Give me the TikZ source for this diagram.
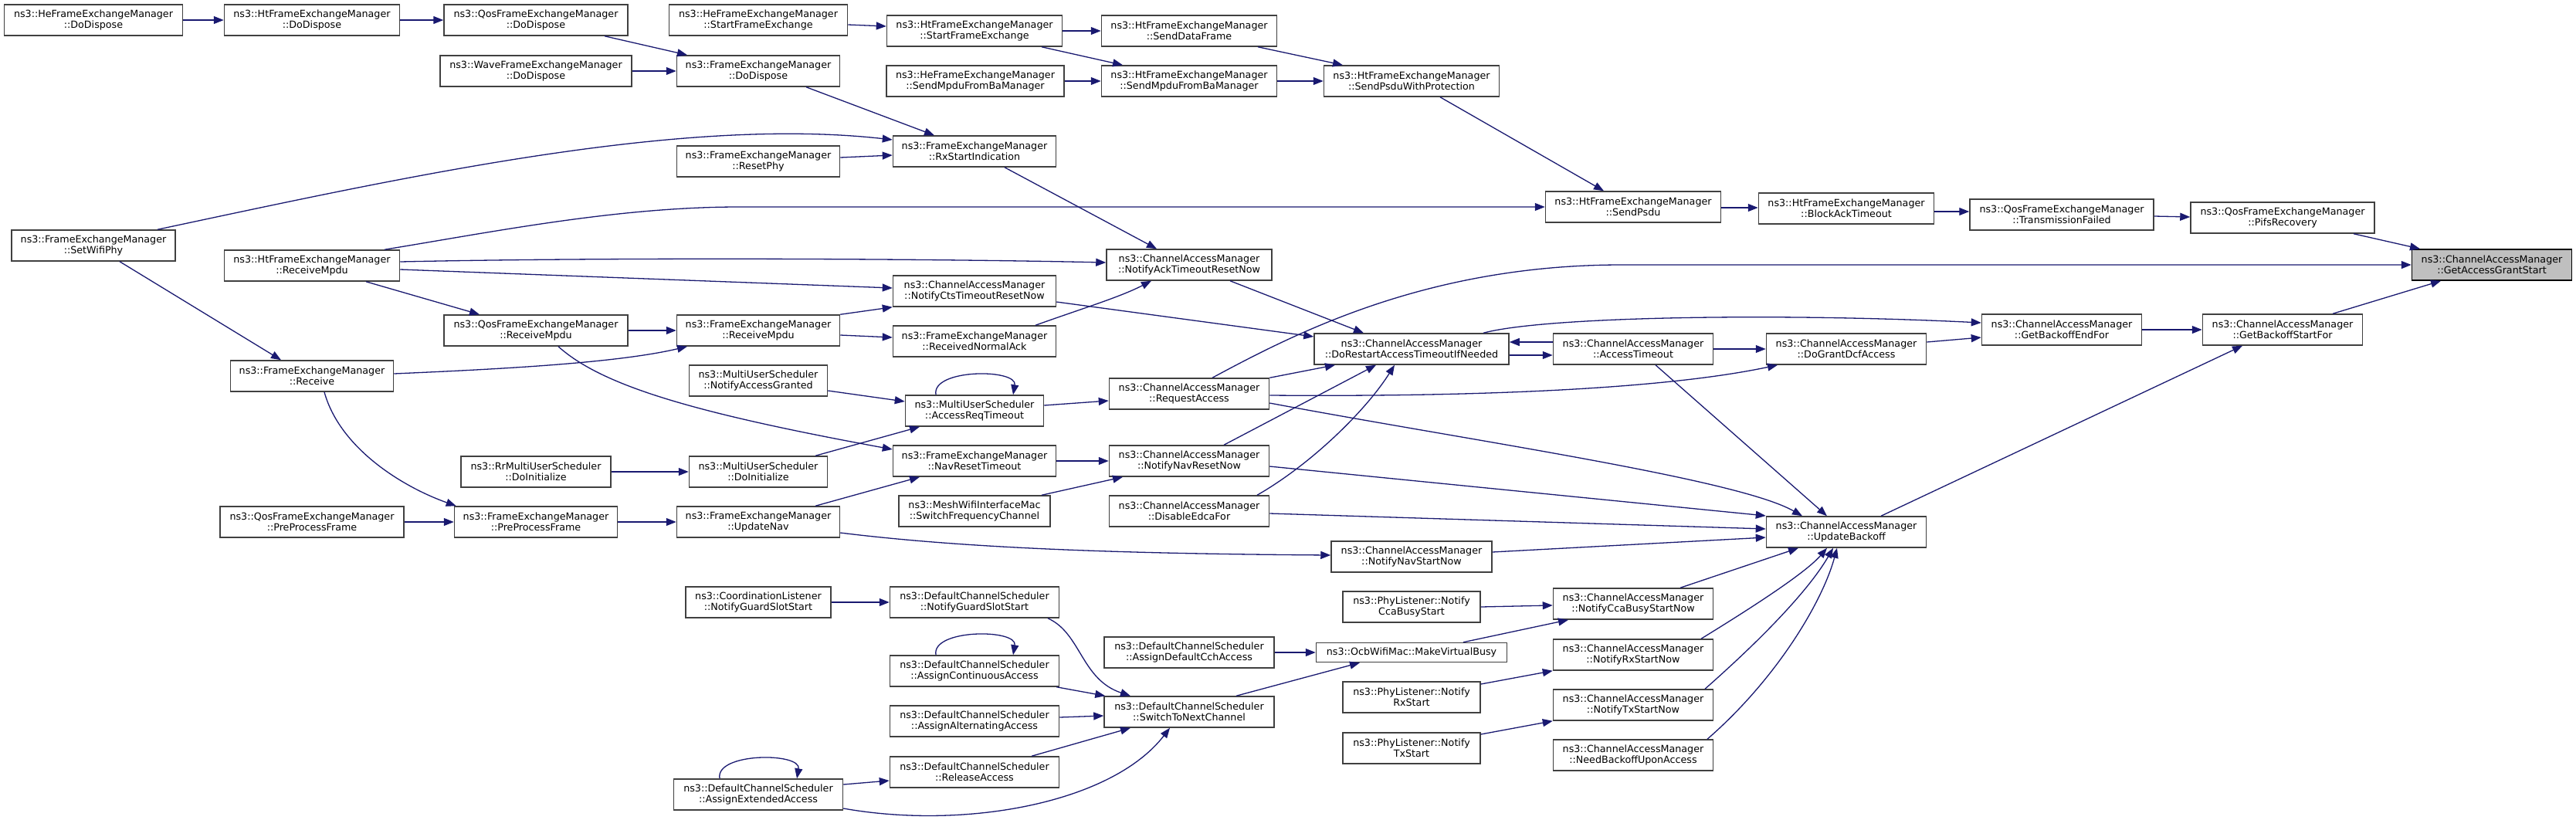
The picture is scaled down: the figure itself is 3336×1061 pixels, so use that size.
\documentclass[tikz,border=0pt]{standalone}
\usepackage{fontspec}
\setmainfont{DejaVu Sans}
\usepackage{tikz}
\usetikzlibrary{arrows.meta,calc}
\definecolor{edgeblue}{HTML}{191970}
\definecolor{boxgray}{HTML}{404040}
\definecolor{hilite}{HTML}{BFBFBF}

\begin{document}
\begin{tikzpicture}[x=1pt,y=-1pt,
			fn/.style={draw=boxgray,line width=1.5pt,fill=white,minimum height=40pt,inner sep=1pt,
				align=center,font=\fontsize{12.7}{13.8}\selectfont},
			call/.style={draw=edgeblue,line width=1.3pt,-{Triangle[length=13pt,width=10pt]}},
			]
			\useasboundingbox (0,0) rectangle (3336,1061);
			
			% DoDispose / StartFrameExchange
			\node[fn,minimum width=231] (heDispose) at (121,26) {ns3::HeFrameExchangeManager\\::DoDispose};
			\node[fn,minimum width=227] (htDispose) at (404,26) {ns3::HtFrameExchangeManager\\::DoDispose};
			\node[fn,minimum width=238] (qosDispose) at (694,26) {ns3::QosFrameExchangeManager\\::DoDispose};
			\node[fn,minimum width=248] (waveDispose) at (694,92) {ns3::WaveFrameExchangeManager\\::DoDispose};
			\node[fn,minimum width=231] (heStartFx) at (982,26) {ns3::HeFrameExchangeManager\\::StartFrameExchange};
			\node[fn,minimum width=211] (femDispose) at (982,92) {ns3::FrameExchangeManager\\::DoDispose};
			\node[fn,minimum width=227] (htStartFx) at (1262,40) {ns3::HtFrameExchangeManager\\::StartFrameExchange};
			\node[fn,minimum width=230] (heSendMpdu) at (1263,105) {ns3::HeFrameExchangeManager\\::SendMpduFromBaManager};
			\node[fn,minimum width=227] (htSendData) at (1540,40) {ns3::HtFrameExchangeManager\\::SendDataFrame};
			\node[fn,minimum width=227] (htSendMpdu) at (1540,105) {ns3::HtFrameExchangeManager\\::SendMpduFromBaManager};
			\node[fn,minimum width=227] (htSendProt) at (1828,105) {ns3::HtFrameExchangeManager\\::SendPsduWithProtection};
			\node[fn,minimum width=211] (rxStart) at (1262,196) {ns3::FrameExchangeManager\\::RxStartIndication};
			\node[fn,minimum width=211] (resetPhy) at (982,209) {ns3::FrameExchangeManager\\::ResetPhy};
			\node[fn,minimum width=227] (htSendPsdu) at (2115,268) {ns3::HtFrameExchangeManager\\::SendPsdu};
			\node[fn,minimum width=227] (blockAckTo) at (2391,270) {ns3::HtFrameExchangeManager\\::BlockAckTimeout};
			\node[fn,minimum width=238] (txFailed) at (2670,278) {ns3::QosFrameExchangeManager\\::TransmissionFailed};
			\node[fn,minimum width=238] (pifsRec) at (2956,282) {ns3::QosFrameExchangeManager\\::PifsRecovery};
			
			% ReceiveMpdu
			\node[fn,minimum width=212] (setWifiPhy) at (121,318) {ns3::FrameExchangeManager\\::SetWifiPhy};
			\node[fn,minimum width=227] (htRecvMpdu) at (404,344) {ns3::HtFrameExchangeManager\\::ReceiveMpdu};
			\node[fn,minimum width=214] (ackReset) at (1540,343) {ns3::ChannelAccessManager\\::NotifyAckTimeoutResetNow};
			\node[fn,minimum width=207,fill=hilite,draw=black] (grantStart) at (3227,343) {ns3::ChannelAccessManager\\::GetAccessGrantStart};
			\node[fn,minimum width=211] (ctsReset) at (1262,377) {ns3::ChannelAccessManager\\::NotifyCtsTimeoutResetNow};
			\node[fn,minimum width=238] (qosRecvMpdu) at (694,428) {ns3::QosFrameExchangeManager\\::ReceiveMpdu};
			\node[fn,minimum width=211] (femRecvMpdu) at (982,428) {ns3::FrameExchangeManager\\::ReceiveMpdu};
			\node[fn,minimum width=207] (endFor) at (2670,427) {ns3::ChannelAccessManager\\::GetBackoffEndFor};
			\node[fn,minimum width=207] (startFor) at (2956,427) {ns3::ChannelAccessManager\\::GetBackoffStartFor};
			\node[fn,minimum width=211] (recvAck) at (1262,442) {ns3::FrameExchangeManager\\::ReceivedNormalAck};
			\node[fn,minimum width=252] (restartTo) at (1828,452) {ns3::ChannelAccessManager\\::DoRestartAccessTimeoutIfNeeded};
			\node[fn,minimum width=207] (accessTo) at (2115,452) {ns3::ChannelAccessManager\\::AccessTimeout};
			\node[fn,minimum width=207] (grantDcf) at (2391,452) {ns3::ChannelAccessManager\\::DoGrantDcfAccess};
			\node[fn,minimum width=211] (femReceive) at (404,487) {ns3::FrameExchangeManager\\::Receive};
			\node[fn,minimum width=179] (accGranted) at (982,493) {ns3::MultiUserScheduler\\::NotifyAccessGranted};
			\node[fn,minimum width=207] (reqAccess) at (1540,510) {ns3::ChannelAccessManager\\::RequestAccess};
			\node[fn,minimum width=179] (accReqTo) at (1262,532) {ns3::MultiUserScheduler\\::AccessReqTimeout};
			
			% Nav / Backoff
			\node[fn,minimum width=211] (navResetTo) at (1262,597) {ns3::FrameExchangeManager\\::NavResetTimeout};
			\node[fn,minimum width=207] (navResetNow) at (1540,597) {ns3::ChannelAccessManager\\::NotifyNavResetNow};
			\node[fn,minimum width=194] (rrInit) at (694,611) {ns3::RrMultiUserScheduler\\::DoInitialize};
			\node[fn,minimum width=179] (musInit) at (982,611) {ns3::MultiUserScheduler\\::DoInitialize};
			\node[fn,minimum width=196] (switchFreq) at (1262,662) {ns3::MeshWifiInterfaceMac\\::SwitchFrequencyChannel};
			\node[fn,minimum width=207] (disableEdca) at (1540,662) {ns3::ChannelAccessManager\\::DisableEdcaFor};
			\node[fn,minimum width=238] (qosPreProc) at (404,676) {ns3::QosFrameExchangeManager\\::PreProcessFrame};
			\node[fn,minimum width=211] (femPreProc) at (694,676) {ns3::FrameExchangeManager\\::PreProcessFrame};
			\node[fn,minimum width=211] (updateNav) at (982,676) {ns3::FrameExchangeManager\\::UpdateNav};
			\node[fn,minimum width=207] (updateBackoff) at (2391,689) {ns3::ChannelAccessManager\\::UpdateBackoff};
			\node[fn,minimum width=208] (navStartNow) at (1828,721) {ns3::ChannelAccessManager\\::NotifyNavStartNow};
			
			% Channel scheduler / PHY listener
			\node[fn,minimum width=188] (clGuard) at (982,780) {ns3::CoordinationListener\\::NotifyGuardSlotStart};
			\node[fn,minimum width=219] (dcsGuard) at (1262,780) {ns3::DefaultChannelScheduler\\::NotifyGuardSlotStart};
			\node[fn,minimum width=178] (plCca) at (1828,786) {ns3::PhyListener::Notify\\CcaBusyStart};
			\node[fn,minimum width=207] (ccaBusyNow) at (2115,782) {ns3::ChannelAccessManager\\::NotifyCcaBusyStartNow};
			\node[fn,minimum width=220] (assignCch) at (1540,845) {ns3::DefaultChannelScheduler\\::AssignDefaultCchAccess};
			\node[fn,minimum width=247,minimum height=25pt] (virtBusy) at (1828,845) {ns3::OcbWifiMac::MakeVirtualBusy};
			\node[fn,minimum width=207] (rxStartNow) at (2115,848) {ns3::ChannelAccessManager\\::NotifyRxStartNow};
			\node[fn,minimum width=219] (assignCont) at (1262,869) {ns3::DefaultChannelScheduler\\::AssignContinuousAccess};
			\node[fn,minimum width=178] (plRx) at (1828,903) {ns3::PhyListener::Notify\\RxStart};
			\node[fn,minimum width=207] (txStartNow) at (2115,913) {ns3::ChannelAccessManager\\::NotifyTxStartNow};
			\node[fn,minimum width=220] (switchNext) at (1540,922) {ns3::DefaultChannelScheduler\\::SwitchToNextChannel};
			\node[fn,minimum width=219] (assignAlt) at (1262,934) {ns3::DefaultChannelScheduler\\::AssignAlternatingAccess};
			\node[fn,minimum width=178] (plTx) at (1828,969) {ns3::PhyListener::Notify\\TxStart};
			\node[fn,minimum width=207] (needBackoff) at (2115,978) {ns3::ChannelAccessManager\\::NeedBackoffUponAccess};
			\node[fn,minimum width=219] (releaseAcc) at (1262,1000) {ns3::DefaultChannelScheduler\\::ReleaseAccess};
			\node[fn,minimum width=219] (assignExt) at (982,1029) {ns3::DefaultChannelScheduler\\::AssignExtendedAccess};
			
			% 调用边：上部
			\draw[call] (heDispose.east) -- (htDispose.west);
			\draw[call] (htDispose.east) -- (qosDispose.west);
			\draw[call] ($(qosDispose.south)+(89,0)$) -- ($(femDispose.north)+(-92,0)$);
			\draw[call] (waveDispose.east) -- (femDispose.west);
			\draw[call] ($(heStartFx.east)+(0,6)$) -- ($(htStartFx.west)+(0,-6)$);
			\draw[call] (htStartFx.east) -- (htSendData.west);
			\draw[call] ($(htStartFx.south)+(87,0)$) -- ($(htSendMpdu.north)+(-86,0)$);
			\draw[call] (heSendMpdu.east) -- (htSendMpdu.west);
			\draw[call] ($(htSendData.south)+(89,0)$) -- ($(htSendProt.north)+(-89,0)$);
			\draw[call] (htSendMpdu.east) -- (htSendProt.west);
			\draw[call] ($(htSendProt.south)+(37,0)$) -- ($(htSendPsdu.north)+(-38,0)$);
			\draw[call] ($(femDispose.south)+(62,0)$) -- ($(rxStart.north)+(-52,0)$);
			\draw[call] ($(resetPhy.east)+(0,-5)$) -- ($(rxStart.west)+(0,5)$);
			\draw[call] ($(setWifiPhy.north)+(83,0)$) .. controls (520,230) and (880,150) .. ($(rxStart.west)+(0,-15)$);
			\draw[call] ($(setWifiPhy.south)+(34,0)$) -- ($(femReceive.north)+(-40,0)$);
			\draw[call] ($(htRecvMpdu.north)+(94,0)$) .. controls (640,300) and (800,268) .. (957,268) -- (htSendPsdu.west);
			\draw[call] ($(htSendPsdu.east)+(0,1)$) -- ($(blockAckTo.west)+(0,-1)$);
			\draw[call] ($(blockAckTo.east)+(0,4)$) -- ($(txFailed.west)+(0,-4)$);
			\draw[call] ($(txFailed.east)+(0,2)$) -- ($(pifsRec.west)+(0,-1)$);
			\draw[call] ($(pifsRec.south)+(92,0)$) -- ($(grantStart.north)+(-93,0)$);
			
			% 调用边：ReceiveMpdu
			\draw[call] ($(htRecvMpdu.east)+(0,-5)$) .. controls (800,333) and (1200,335) .. ($(ackReset.west)+(0,-3)$);
			\draw[call] ($(htRecvMpdu.east)+(0,5)$) -- ($(ctsReset.west)+(0,-4)$);
			\draw[call] ($(htRecvMpdu.south)+(70,0)$) -- ($(qosRecvMpdu.north)+(-73,0)$);
			\draw[call] (qosRecvMpdu.east) -- (femRecvMpdu.west);
			\draw[call] ($(femReceive.east)+(0,-3)$) .. controls (650,478) and (800,470) .. ($(femRecvMpdu.south)+(-92,0)$);
			\draw[call] ($(qosRecvMpdu.south)+(29,0)$) .. controls (780,500) and (900,535) .. ($(navResetTo.west)+(0,-15)$);
			\draw[call] ($(femReceive.south)+(16,0)$) .. controls (440,580) and (520,630) .. ($(femPreProc.north west)+(3,0)$);
			\draw[call] (femRecvMpdu.north east) -- (ctsReset.south west);
			\draw[call] ($(femRecvMpdu.east)+(0,6)$) -- ($(recvAck.west)+(0,-5)$);
			\draw[call] ($(recvAck.north)+(79,0)$) .. controls (1400,400) and (1450,385) .. ($(ackReset.south)+(-49,0)$);
			\draw[call] ($(rxStart.south)+(39,0)$) -- ($(ackReset.north)+(-42,0)$);
			\draw[call] ($(ctsReset.east)+(0,14)$) -- ($(restartTo.west)+(0,-16)$);
			\draw[call] ($(ackReset.south)+(53,0)$) -- ($(restartTo.north)+(-62,0)$);
			
			% 调用边：MultiUserScheduler
			\draw[call] ($(accGranted.east)+(0,13)$) -- ($(accReqTo.west)+(0,-12)$);
			\draw[call] ($(accReqTo.north)+(-50,0)$) .. controls +(-6,-34) and +(6,-34) .. ($(accReqTo.north)+(50,0)$);
			\draw[call] ($(accReqTo.east)+(0,-7)$) -- ($(reqAccess.west)+(0,9)$);
			\draw[call] ($(musInit.north)+(74,0)$) -- ($(accReqTo.south)+(-71,0)$);
			\draw[call] (rrInit.east) -- (musInit.west);
			
			% 调用边：Nav
			\draw[call] (qosPreProc.east) -- (femPreProc.west);
			\draw[call] (femPreProc.east) -- (updateNav.west);
			\draw[call] ($(updateNav.north)+(74,0)$) -- ($(navResetTo.south)+(-71,0)$);
			\draw[call] ($(updateNav.east)+(0,14)$) .. controls (1250,710) and (1450,717) .. ($(navStartNow.west)+(0,-2)$);
			\draw[call] (navResetTo.east) -- (navResetNow.west);
			\draw[call] ($(switchFreq.north)+(87,0)$) -- ($(navResetNow.south)+(-86,0)$);
			
			% 调用边：ChannelAccessManager
			\draw[call] (reqAccess.north east) -- ($(restartTo.south)+(-99,0)$);
			\draw[call] ($(navResetNow.north)+(45,0)$) -- ($(restartTo.south)+(-46,0)$);
			\draw[call] ($(disableEdca.north)+(88,0)$) .. controls (1700,600) and (1770,530) .. ($(restartTo.south)+(-22,0)$);
			\draw[call] ($(reqAccess.east)+(0,2)$) .. controls (1900,514) and (2150,505) .. ($(grantDcf.south)+(-89,0)$);
			\draw[call] ($(reqAccess.north)+(30,0)$) .. controls (1680,430) and (1850,343) .. (2100,343) -- (grantStart.west);
			\draw[call] ($(reqAccess.east)+(0,12)$) .. controls (1900,570) and (2250,620) .. ($(updateBackoff.north)+(-57,0)$);
			\draw[call] ($(navResetNow.east)+(0,7)$) -- ($(updateBackoff.west)+(0,-21)$);
			\draw[call] ($(disableEdca.east)+(0,3)$) -- ($(updateBackoff.west)+(0,-4)$);
			\draw[call] ($(navStartNow.east)+(0,-6)$) -- ($(updateBackoff.west)+(0,7)$);
			\draw[call] ($(accessTo.south)+(29,0)$) -- ($(updateBackoff.north)+(-25,0)$);
			\draw[call] ($(ccaBusyNow.north)+(61,0)$) -- ($(updateBackoff.south)+(-62,0)$);
			\draw[call] ($(rxStartNow.north)+(88,0)$) .. controls (2280,780) and (2340,740) .. ($(updateBackoff.south)+(-25,0)$);
			\draw[call] ($(txStartNow.north)+(93,0)$) .. controls (2290,820) and (2345,760) .. ($(updateBackoff.south)+(-17,0)$);
			\draw[call] ($(needBackoff.north)+(96,0)$) .. controls (2300,880) and (2360,780) .. ($(updateBackoff.south)+(-12,0)$);
			\draw[call] ($(updateBackoff.north)+(45,0)$) -- ($(startFor.south)+(-52,0)$);
			\draw[call] ($(restartTo.east)+(0,8)$) -- ($(accessTo.west)+(0,8)$);
			\draw[call] ($(accessTo.west)+(0,-9)$) -- ($(restartTo.east)+(0,-9)$);
			\draw[call] (accessTo.east) -- (grantDcf.west);
			\draw[call] ($(grantDcf.east)+(0,-9)$) -- ($(endFor.west)+(0,10)$);
			\draw[call] ($(restartTo.north)+(93,0)$) .. controls (2000,410) and (2300,405) .. ($(endFor.west)+(0,-9)$);
			\draw[call] (endFor.east) -- (startFor.west);
			\draw[call] ($(startFor.north)+(65,0)$) -- ($(grantStart.south)+(-66,0)$);
			
			% 调用边：PHY listener / 信道调度
			\draw[call] (plCca.east) -- ($(ccaBusyNow.west)+(0,2)$);
			\draw[call] ($(virtBusy.north)+(67,0)$) -- ($(ccaBusyNow.south)+(-84,0)$);
			\draw[call] ($(plRx.east)+(0,-17)$) -- (rxStartNow.south west);
			\draw[call] ($(plTx.east)+(0,-18)$) -- (txStartNow.south west);
			\draw[call] (assignCch.east) -- (virtBusy.west);
			\draw[call] ($(switchNext.north)+(61,0)$) -- ($(virtBusy.south)+(-67,0)$);
			\draw[call] (clGuard.east) -- (dcsGuard.west);
			\draw[call] ($(dcsGuard.south)+(95,0)$) .. controls (1400,820) and (1400,880) .. ($(switchNext.north)+(-76,0)$);
			\draw[call] ($(assignCont.north)+(-50,0)$) .. controls +(-6,-34) and +(6,-34) .. ($(assignCont.north)+(50,0)$);
			\draw[call] ($(assignCont.south east)+(-4,0)$) -- ($(switchNext.north west)+(2,0)$);
			\draw[call] ($(assignAlt.east)+(0,-5)$) -- ($(switchNext.west)+(0,5)$);
			\draw[call] ($(releaseAcc.north)+(74,0)$) -- ($(switchNext.south)+(-76,0)$);
			\draw[call] ($(assignExt.north)+(-50,0)$) .. controls +(-6,-34) and +(6,-34) .. ($(assignExt.north)+(50,0)$);
			\draw[call] ($(assignExt.east)+(0,-13)$) -- ($(releaseAcc.west)+(0,11)$);
			\draw[call] ($(assignExt.east)+(0,18)$) .. controls (1250,1075) and (1440,1040) .. ($(switchNext.south)+(-25,0)$);
		\end{tikzpicture}
\end{document}
